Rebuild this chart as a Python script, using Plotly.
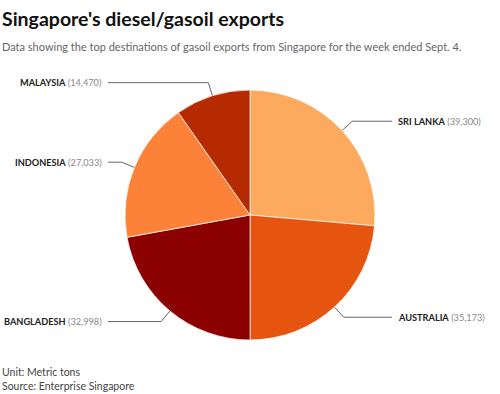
import math
import plotly.graph_objects as go

countries = ["SRI LANKA", "AUSTRALIA", "BANGLADESH", "INDONESIA", "MALAYSIA"]
values = [39300, 35173, 32998, 27033, 14470]
colors = ["#fdaa5e", "#e5550f", "#8b0000", "#fd8239", "#b52a00"]

W, H = 500, 394
cx, cy, R = 250, 215, 125

fig = go.Figure()
fig.add_trace(go.Pie(
    labels=countries, values=values, sort=False, direction="clockwise", rotation=0,
    marker=dict(colors=colors, line=dict(color="rgba(255,255,255,0.7)", width=1)),
    textinfo="none", hoverinfo="label+value", showlegend=False,
    domain=dict(x=[(cx - R) / W, (cx + R) / W], y=[1 - (cy + R) / H, 1 - (cy - R) / H]),
))

total = sum(values)
cum = 0
annotations = []
for name, v in zip(countries, values):
    mid = (cum + v / 2) / total * 2 * math.pi
    cum += v
    s, c = math.sin(mid), math.cos(mid)
    dx, dy = cx + 0.75 * R * s, cy - 0.75 * R * c
    ex, ey = cx + 1.11 * R * s, cy - 1.11 * R * c
    right = s > 0
    hx = cx + 142 if right else cx - 142
    fig.add_trace(go.Scatter(x=[dx, ex, hx], y=[dy, ey, ey], mode="lines",
                             line=dict(color="#666", width=1), hoverinfo="skip", showlegend=False))
    fig.add_trace(go.Scatter(x=[dx], y=[dy], mode="markers",
                             marker=dict(color="#333", size=4), hoverinfo="skip", showlegend=False))
    annotations.append(dict(
        x=hx + (4 if right else -4), y=ey, xref="x", yref="y",
        xanchor="left" if right else "right", yanchor="middle", showarrow=False,
        text=f"<b>{name}</b> <span style='color:#888'>({v:,})</span>",
        font=dict(family="Lato", size=9.2, color="#222"),
    ))

annotations += [
    dict(x=0, y=18, xref="x", yref="y", xanchor="left", yanchor="middle", showarrow=False,
         text="<b>Singapore's diesel/gasoil exports</b>",
         font=dict(family="Lato", size=19.5, color="#111")),
    dict(x=0, y=46, xref="x", yref="y", xanchor="left", yanchor="middle", showarrow=False,
         text="Data showing the top destinations of gasoil exports from Singapore for the week ended Sept. 4.",
         font=dict(family="Lato", size=11, color="#666")),
    dict(x=0, y=372, xref="x", yref="y", xanchor="left", yanchor="middle", showarrow=False,
         text="Unit: Metric tons", font=dict(family="Lato", size=10.5, color="#444")),
    dict(x=0, y=386, xref="x", yref="y", xanchor="left", yanchor="middle", showarrow=False,
         text="Source: Enterprise Singapore", font=dict(family="Lato", size=10.5, color="#444")),
]

fig.update_layout(
    width=W, height=H, margin=dict(l=0, r=0, t=0, b=0),
    paper_bgcolor="white", plot_bgcolor="rgba(0,0,0,0)",
    xaxis=dict(range=[0, W], visible=False, fixedrange=True, domain=[0, 1]),
    yaxis=dict(range=[H, 0], visible=False, fixedrange=True, domain=[0, 1]),
    annotations=annotations,
)
fig.write_html("out.html", config={"displayModeBar": False},
               post_script="document.body.style.margin='0';document.body.style.overflow='hidden';")
